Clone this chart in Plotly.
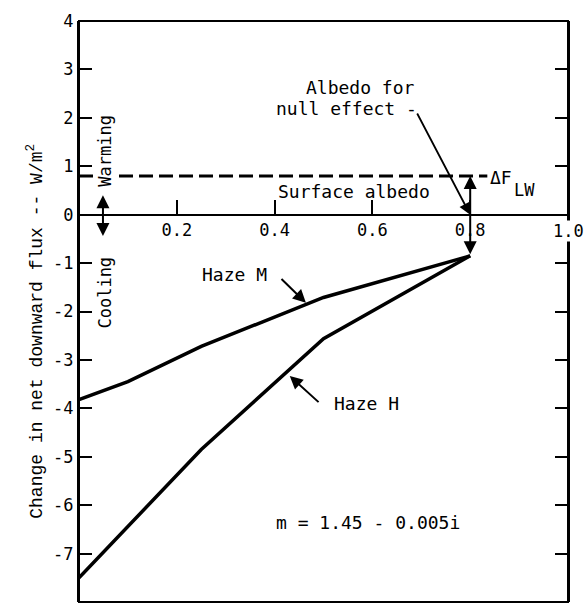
import plotly.graph_objects as go

# Data
albedo_m = [0.0, 0.1, 0.25, 0.5, 0.8]
haze_m = [-3.82, -3.45, -2.72, -1.71, -0.85]
albedo_h = [0.0, 0.1, 0.15, 0.25, 0.5, 0.8]
haze_h = [-7.5, -6.45, -5.92, -4.85, -2.56, -0.85]
dflw_x = [0.0, 0.835]
dflw_y = [0.8, 0.8]
null_albedo = 0.8
x_ticks = [0.2, 0.4, 0.6, 0.8, 1.0]
x_ticktext = ["0.2", "0.4", "0.6", "0.8", ""]   # "1.0" drawn as annotation with white background
y_ticks = list(range(-8, 5))
y_ticktext = [str(v) for v in y_ticks]  # plain hyphen minus, as in the reference

SANS = "DejaVu Sans Mono"
SERIF = "Liberation Mono"

fig = go.Figure()
fig.add_trace(go.Scatter(x=albedo_m, y=haze_m, mode="lines",
                         line=dict(color="black", width=3.5), showlegend=False))
fig.add_trace(go.Scatter(x=albedo_h, y=haze_h, mode="lines",
                         line=dict(color="black", width=3.5), showlegend=False))
fig.add_trace(go.Scatter(x=dflw_x, y=dflw_y, mode="lines",
                         line=dict(color="black", width=3, dash="14px,6px"), showlegend=False))

ann = []
# Warming / Cooling
ann.append(dict(x=0.053, y=1.32, text="Warming", textangle=-90, showarrow=False,
                font=dict(family=SANS, size=17), bgcolor="white"))
ann.append(dict(x=0.053, y=-1.61, text="Cooling", textangle=-90, showarrow=False,
                font=dict(family=SANS, size=17)))
ann.append(dict(x=0.049, y=0.40, ax=0.049, ay=-0.47, axref="x", ayref="y", text="",
                showarrow=True, arrowhead=2, arrowside="end+start", arrowsize=1.3,
                arrowwidth=2, arrowcolor="black"))
# Surface albedo
ann.append(dict(x=0.562, y=0.47, text="Surface albedo", showarrow=False,
                font=dict(family=SANS, size=18)))
# Delta F_LW
ann.append(dict(x=0.863, y=0.76, text="ΔF", showarrow=False,
                font=dict(family=SANS, size=18)))
ann.append(dict(x=0.912, y=0.51, text="LW", showarrow=False,
                font=dict(family=SANS, size=17)))
# vertical double arrow at null albedo
ann.append(dict(x=null_albedo, y=0.8, ax=null_albedo, ay=-0.85, axref="x", ayref="y", text="",
                showarrow=True, arrowhead=2, arrowside="end+start", arrowsize=1.3,
                arrowwidth=2, arrowcolor="black"))
# Albedo for null effect
ann.append(dict(x=0.575, y=2.62, text="Albedo for", showarrow=False,
                font=dict(family=SANS, size=18)))
ann.append(dict(x=0.548, y=2.2, text="null effect -", showarrow=False,
                font=dict(family=SANS, size=18)))
ann.append(dict(x=null_albedo, y=0.0, ax=0.69, ay=2.12, axref="x", ayref="y", text="",
                showarrow=True, arrowhead=2, arrowsize=1.3, arrowwidth=1.8, arrowcolor="black"))
# Haze M
ann.append(dict(x=0.317, y=-1.24, text="Haze M", showarrow=False,
                font=dict(family=SANS, size=18)))
ann.append(dict(x=0.464, y=-1.82, ax=0.411, ay=-1.30, axref="x", ayref="y", text="",
                showarrow=True, arrowhead=2, arrowsize=1.3, arrowwidth=2, arrowcolor="black"))
# Haze H
ann.append(dict(x=0.587, y=-3.90, text="Haze H", showarrow=False,
                font=dict(family=SANS, size=18)))
ann.append(dict(x=0.431, y=-3.33, ax=0.493, ay=-3.90, axref="x", ayref="y", text="",
                showarrow=True, arrowhead=2, arrowsize=1.3, arrowwidth=2, arrowcolor="black"))
# refractive index
ann.append(dict(x=0.591, y=-6.36, text="m = 1.45 - 0.005i", showarrow=False,
                font=dict(family=SANS, size=18)))
# last x tick label, breaking the right frame line as in the reference
ann.append(dict(x=x_ticks[-1], y=-0.34, text="1.0", showarrow=False, bgcolor="white",
                borderpad=0, font=dict(family=SANS, size=17)))
# y title
ann.append(dict(xref="paper", yref="paper", x=-0.1166, y=0.466,
                text="Change in net downward flux -- W/m<sup>2</sup>", textangle=-90,
                showarrow=False, font=dict(family=SERIF, size=18)))

fig.update_layout(
    width=585, height=605,
    margin=dict(l=79, r=17, t=21, b=3),
    paper_bgcolor="white", plot_bgcolor="white",
    font=dict(color="black", family=SANS),
    showlegend=False,
    annotations=ann,
    shapes=[dict(type="rect", xref="paper", yref="paper", x0=0, x1=1, y0=0, y1=1,
                 line=dict(color="black", width=2), layer="above")],
    xaxis=dict(range=[0, 1.0], showgrid=False, zeroline=False,
               anchor="free", position=8/12,
               showline=True, linecolor="black", linewidth=2,
               tickvals=x_ticks, ticktext=x_ticktext, ticks="inside", ticklen=14,
               tickwidth=1.5, tickcolor="black",
               tickfont=dict(family=SANS, size=17, color="black")),
    yaxis=dict(range=[-8, 4], showgrid=False, zeroline=False,
               showline=True, linecolor="black", linewidth=2, mirror="ticks",
               tickvals=y_ticks, ticktext=y_ticktext, ticks="inside", ticklen=13,
               tickwidth=1.5, tickcolor="black",
               tickfont=dict(family=SANS, size=17, color="black")),
)

fig.write_html("out.html", config={"displayModeBar": False},
               post_script="document.body.style.margin='0';document.body.style.padding='0';")
